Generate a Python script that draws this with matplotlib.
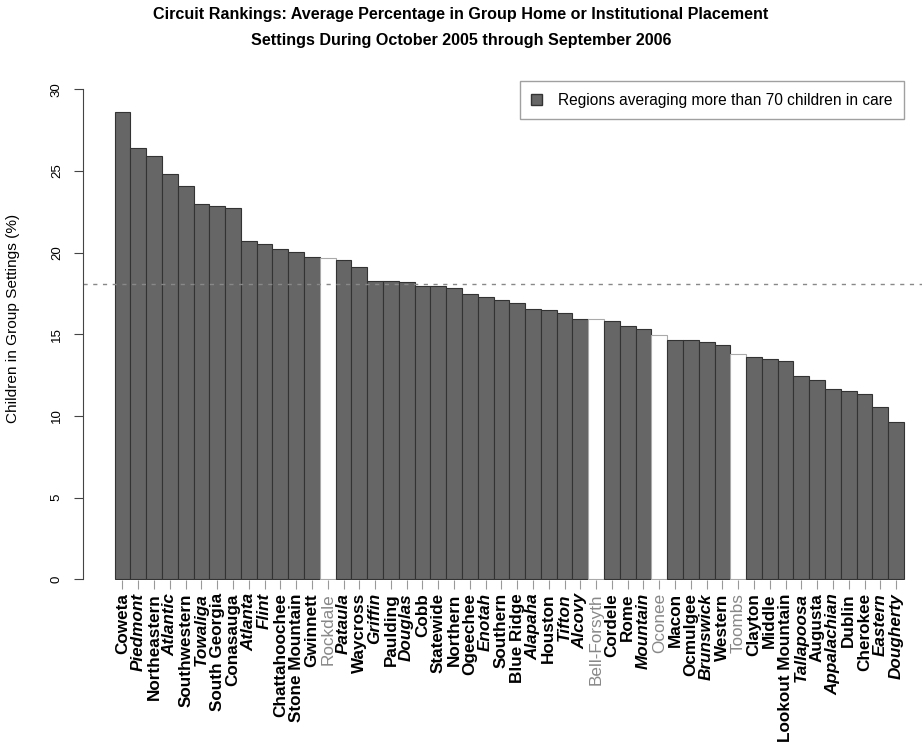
import numpy as np
import matplotlib
matplotlib.use("Agg")
import matplotlib.pyplot as plt
from matplotlib.patches import Patch

plt.rcParams['font.family'] = ['Liberation Sans', 'DejaVu Sans']

# circuits, sorted by percentage
circuits = ["Coweta", "Piedmont", "Northeastern", "Atlantic", "Southwestern",
            "Towaliga", "South Georgia", "Conasauga", "Atlanta", "Flint",
            "Chattahoochee", "Stone Mountain", "Gwinnett", "Rockdale", "Pataula",
            "Waycross", "Griffin", "Paulding", "Douglas", "Cobb",
            "Statewide", "Northern", "Ogeechee", "Enotah", "Southern",
            "Blue Ridge", "Alapaha", "Houston", "Tifton", "Alcovy",
            "Bell-Forsyth", "Cordele", "Rome", "Mountain", "Oconee",
            "Macon", "Ocmulgee", "Brunswick", "Western", "Toombs",
            "Clayton", "Middle", "Lookout Mountain", "Tallapoosa", "Augusta",
            "Appalachian", "Dublin", "Cherokee", "Eastern", "Dougherty"]
pct_group = [28.6, 26.4, 25.9, 24.8, 24.1,
             23.0, 22.85, 22.7, 20.7, 20.5,
             20.2, 20.05, 19.7, 19.65, 19.55,
             19.1, 18.25, 18.25, 18.2, 17.95,
             17.95, 17.8, 17.45, 17.3, 17.1,
             16.9, 16.55, 16.45, 16.3, 15.95,
             15.9, 15.8, 15.5, 15.3, 14.95,
             14.65, 14.65, 14.5, 14.35, 13.8,
             13.6, 13.5, 13.35, 12.45, 12.2,
             11.65, 11.55, 11.35, 10.55, 9.6]
# True = region averaging more than 70 children in care
large_region = [c not in ("Rockdale", "Bell-Forsyth", "Oconee", "Toombs") for c in circuits]
italic_labels = {"Piedmont", "Atlantic", "Towaliga", "Atlanta", "Flint", "Pataula",
                 "Griffin", "Douglas", "Enotah", "Alapaha", "Tifton", "Alcovy",
                 "Mountain", "Brunswick", "Tallapoosa", "Appalachian", "Eastern",
                 "Dougherty"}
statewide_line = 18.05

W, H = 922, 748
fig = plt.figure(figsize=(W/100, H/100), dpi=100)
ax = fig.add_axes([83/W, (H-580)/H, (W-83)/W, 499/H])

x = np.arange(len(circuits)) + 0.5
colors = ['#666666' if big else 'white' for big in large_region]
edges = ['#333333' if big else '#aaaaaa' for big in large_region]
ax.bar(x, pct_group, width=1.0, color=colors, edgecolor=edges, linewidth=0.8)

ax.axhline(statewide_line, color='#888888', linestyle=(0, (3, 4)), linewidth=1.0)

ax.set_xlim(-2, 51.14)
ax.set_ylim(-0.05, 30.5)

for s in ['top', 'right', 'bottom']:
    ax.spines[s].set_visible(False)
ax.spines['left'].set_bounds(0, 30)
ax.spines['left'].set_color('#444444')

ax.set_yticks([0, 5, 10, 15, 20, 25, 30])
ax.set_yticklabels(['0', '5', '10', '15', '20', '25', '30'], rotation=90, va='center', fontsize=9.5)
ax.tick_params(axis='y', length=6.5, pad=8, color='#444444')

ax.set_xticks(x)
ax.set_xticklabels(circuits, rotation=90, fontsize=12.3)
ax.tick_params(axis='x', length=6.5, pad=3, color='#999999')
for lbl, big in zip(ax.get_xticklabels(), large_region):
    if big:
        lbl.set_fontweight('bold')
        if lbl.get_text() in italic_labels:
            lbl.set_fontstyle('italic')
    else:
        lbl.set_color('#888888')

fig.text(13/W, 1 - 318/H, 'Children in Group Settings (%)', rotation=90,
         ha='center', va='center', fontsize=11.1)

fig.text(0.5, 1 - 15/H, 'Circuit Rankings: Average Percentage in Group Home or Institutional Placement',
         ha='center', va='center', fontsize=11.6, fontweight='bold')
fig.text(0.5, 1 - 41/H, 'Settings During October 2005 through September 2006',
         ha='center', va='center', fontsize=11.6, fontweight='bold')

leg = fig.legend(handles=[Patch(facecolor='#666666', edgecolor='#333333')],
                 labels=['Regions averaging more than 70 children in care'],
                 loc='upper right', bbox_to_anchor=(904/W, 1 - 81/H),
                 fontsize=11.2, frameon=True, fancybox=False, borderaxespad=0,
                 handlelength=0.7, handleheight=0.7, handletextpad=1.0,
                 borderpad=0.75)
leg.get_frame().set_edgecolor('#888888')
leg.get_frame().set_linewidth(1.0)

fig.savefig('out.png', dpi=100)
